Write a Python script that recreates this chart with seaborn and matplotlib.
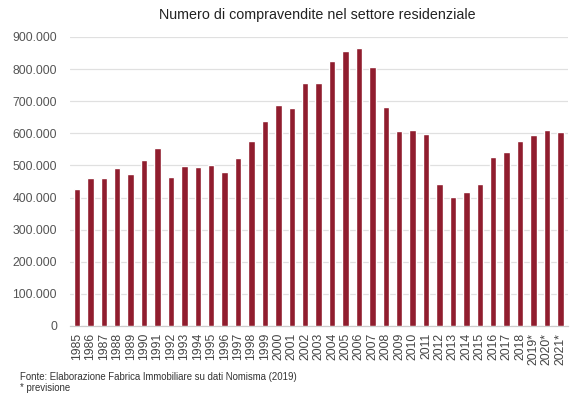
import matplotlib
matplotlib.use("Agg")
import matplotlib.pyplot as plt
import seaborn as sns
import pandas as pd
from matplotlib.ticker import FuncFormatter, MultipleLocator

years = ["1985", "1986", "1987", "1988", "1989", "1990", "1991", "1992", "1993", "1994",
         "1995", "1996", "1997", "1998", "1999", "2000", "2001", "2002", "2003", "2004",
         "2005", "2006", "2007", "2008", "2009", "2010", "2011", "2012", "2013", "2014",
         "2015", "2016", "2017", "2018", "2019*", "2020*", "2021*"]
values = [427000, 461000, 460000, 492000, 473000, 517000, 555000, 464000, 499000, 495000,
          501000, 480000, 523000, 576000, 639000, 687000, 678000, 758000, 758000, 826000,
          856000, 866000, 806000, 682000, 608000, 611000, 597000, 443000, 402000, 416000,
          443000, 527000, 541000, 576000, 594000, 609000, 603000]

title = "Numero di compravendite nel settore residenziale"
source = "Fonte: Elaborazione Fabrica Immobiliare su dati Nomisma (2019)"
note = "* previsione"

sns.set_theme(style="white")
plt.rcParams["font.family"] = ["Liberation Sans", "DejaVu Sans"]

df = pd.DataFrame({"anno": years, "valore": values})

fig = plt.figure(figsize=(5.7, 3.94), dpi=100)
ax = fig.add_axes([0.122, 0.1726, 0.874, 0.7335])

sns.barplot(data=df, x="anno", y="valore", color="#901D2E", width=0.48,
            saturation=1, ax=ax, zorder=3)

ax.set_ylim(0, 900000)
ax.yaxis.set_major_locator(MultipleLocator(100000))
ax.yaxis.set_major_formatter(FuncFormatter(lambda v, p: f"{int(v):,}".replace(",", ".")))
ax.grid(axis="y", color="#e0e0e0", linewidth=0.9, zorder=0)
ax.set_axisbelow(True)
for s in ["top", "right", "left"]:
    ax.spines[s].set_visible(False)
ax.spines["bottom"].set_color("#cccccc")
ax.spines["bottom"].set_linewidth(0.9)
ax.set_xlabel("")
ax.set_ylabel("")
ax.tick_params(axis="y", labelsize=8.8, colors="#555555", length=0, pad=9)
ax.tick_params(axis="x", labelsize=8.8, colors="#444444", length=0, pad=5, rotation=90)
ax.set_xlim(-0.55, len(years) - 0.45)

fig.text(0.556, 0.962, title, ha="center", va="center", fontsize=10.3, color="#222222")
fig.text(0.035, 0.044, source, ha="left", va="center", fontsize=6.9, color="#333333")
fig.text(0.035, 0.015, note, ha="left", va="center", fontsize=6.9, color="#333333")

fig.savefig("out.png", dpi=100)
